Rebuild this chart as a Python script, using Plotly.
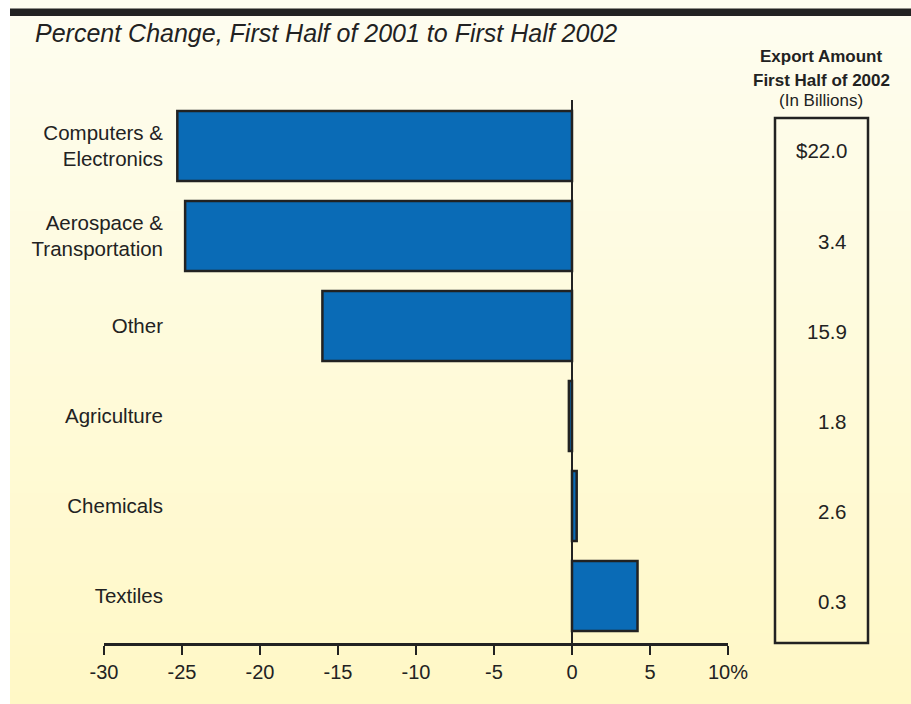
import plotly.graph_objects as go

# data
categories = ["Computers &<br>Electronics", "Aerospace &<br>Transportation", "Other",
              "Agriculture", "Chemicals", "Textiles"]
pct_change = [-25.3, -24.8, -16.0, -0.2, 0.3, 4.2]
export_amount = ["$22.0", "3.4", "15.9", "1.8", "2.6", "0.3"]
x_ticks = [-30, -25, -20, -15, -10, -5, 0, 5, 10]
x_ticktext = ["-30", "-25", "-20", "-15", "-10", "-5", "0", "5", "10%"]

W, H = 911, 704
FONT = "Liberation Sans, Arial, sans-serif"
INK = "#222222"


def px(x):
    return x / W


def py(y):
    return 1 - y / H


pos = list(range(len(categories)))

fig = go.Figure()
fig.add_trace(
    go.Bar(
        x=pct_change,
        y=pos,
        orientation="h",
        width=0.78,
        marker=dict(color="#0A6BB6", line=dict(color=INK, width=2.5)),
        showlegend=False,
        hoverinfo="x",
    )
)

shapes = []
# cream-to-yellow vertical gradient background
n = 60
top, bot = (254, 253, 240), (255, 248, 198)
for i in range(n):
    t = i / (n - 1)
    c = tuple(round(a + (b - a) * t) for a, b in zip(top, bot))
    shapes.append(dict(
        type="rect", xref="paper", yref="paper", layer="below",
        x0=px(10), x1=1.0, y0=py(H * (i + 1) / n + 1), y1=py(H * i / n),
        fillcolor="rgb(%d,%d,%d)" % c, line=dict(width=0),
    ))
# black band at the top
shapes.append(dict(type="rect", xref="paper", yref="paper", x0=px(10), x1=1.0,
                   y0=py(16), y1=py(8.5), fillcolor=INK, line=dict(width=0)))
# box for export amounts
shapes.append(dict(type="rect", xref="paper", yref="paper", x0=px(775), x1=px(868),
                   y0=py(643), y1=py(118), line=dict(color=INK, width=2.5),
                   fillcolor="rgba(0,0,0,0)"))

header = [("<b>Export Amount</b>", 57), ("<b>First Half of 2002</b>", 80),
          ("(In Billions)", 101)]
annotations = [
    dict(text="<i>Percent Change, First Half of 2001 to First Half 2002</i>",
         xref="paper", yref="paper", x=px(33), y=py(33), xanchor="left", yanchor="middle",
         showarrow=False, font=dict(family=FONT, size=25, color=INK)),
]
for txt, yy in header:
    annotations.append(dict(text=txt, xref="paper", yref="paper", x=px(821), y=py(yy),
                            xanchor="center", yanchor="middle", showarrow=False,
                            font=dict(family=FONT, size=17, color=INK)))
for p, v in zip(pos, export_amount):
    annotations.append(dict(text=v, xref="paper", yref="y", x=px(849), y=p, yshift=-5,
                            xanchor="right", yanchor="middle", showarrow=False,
                            font=dict(family=FONT, size=20.5, color=INK)))

fig.update_layout(
    width=W, height=H,
    margin=dict(l=0, r=0, t=0, b=0),
    paper_bgcolor="white",
    plot_bgcolor="rgba(0,0,0,0)",
    shapes=shapes,
    annotations=annotations,
    font=dict(family=FONT, color=INK),
    xaxis=dict(
        domain=[px(104), px(728)],
        range=[-30, 10],
        tickvals=x_ticks, ticktext=x_ticktext,
        ticks="outside", ticklen=9, tickwidth=2, tickcolor=INK,
        showline=True, linewidth=2.5, linecolor=INK,
        showgrid=False,
        zeroline=True, zerolinecolor=INK, zerolinewidth=2,
        tickfont=dict(family=FONT, size=20, color=INK),
        automargin=False,
    ),
    yaxis=dict(
        domain=[py(643), py(100)],
        range=[5.522, -0.511],
        tickvals=pos, ticktext=categories,
        anchor="free", position=px(163),
        showline=False, showgrid=False, zeroline=False, ticks="",
        tickfont=dict(family=FONT, size=20.5, color=INK),
        automargin=False,
    ),
)

fig.write_html(
    "out.html",
    config={"displayModeBar": False},
    post_script="document.body.style.margin='0';document.body.style.overflow='hidden';",
)
